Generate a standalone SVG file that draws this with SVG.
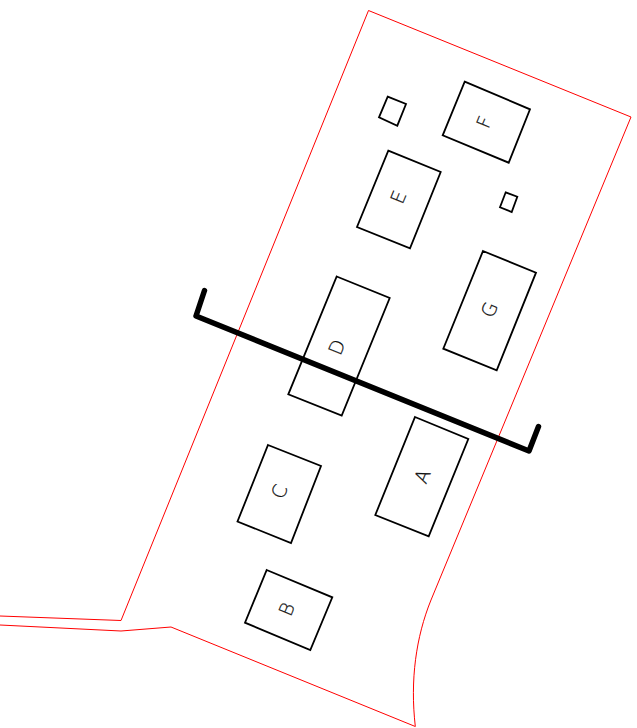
<svg xmlns="http://www.w3.org/2000/svg" width="637" height="728" viewBox="0 0 637 728">
<style>
.b{fill:none;stroke:#000;stroke-width:1.8;stroke-linejoin:miter}
.r{fill:none;stroke:#f00;stroke-width:1}
.s{fill:none;stroke:#000;stroke-width:5.500;stroke-linejoin:round;stroke-linecap:round}
.t{font-family:"DejaVu Sans","Liberation Sans",Arial,sans-serif;font-weight:200;font-size:19px;fill:#000;stroke:#000;stroke-width:.25;opacity:.95;text-anchor:middle;dominant-baseline:central}
</style>
<rect width="637" height="728" fill="#fff"/>
<g id="boundary">
<path class="r" d="M0 616L121 620.500L368.500 10.500L631 117L431 600C416 637 410 680 415.300 726.500L171 627L121 631L0 625"/>
</g>
<g id="A"><path class="b" d="M415 417L468.300 439L428.700 536.300L375.300 515Z"/><text class="t" transform="translate(422 476) rotate(-67.500)">A</text></g>
<g id="B"><path class="b" d="M266.700 570L332.300 597.300L310.300 650L245 622.700Z"/><text class="t" transform="translate(286.500 609) rotate(-67.500)">B</text></g>
<g id="C"><path class="b" d="M268 445L321 466L291 543L237.500 521.500Z"/><text class="t" transform="translate(279 491.500) rotate(-67.500)">C</text></g>
<g id="D"><path class="b" d="M336.700 276.500L389.700 298L341.700 415.700L288.300 394.300Z"/><text class="t" transform="translate(336.500 347) rotate(-67.500)">D</text></g>
<g id="E"><path class="b" d="M388.300 150.700L440.700 172L410 248.300L357 227Z"/><text class="t" transform="translate(398 197) rotate(-67.500)">E</text></g>
<g id="F"><path class="b" d="M464.700 81.700L530 109.300L508.700 162.700L442.700 135.300Z"/><text class="t" transform="translate(484 122) rotate(-67.500)">F</text></g>
<g id="G"><path class="b" d="M483 251L536 272.700L496.700 370.300L443.300 348.700Z"/><text class="t" transform="translate(489 309.500) rotate(-67.500)">G</text></g>
<g id="small-1"><path class="b" d="M387.700 96.700L406 104L397.300 125.700L379 117.300Z"/></g>
<g id="small-2"><path class="b" d="M505.700 192.300L517.300 196.700L511.700 212L500 207.300Z"/></g>
<g id="section"><path class="s" d="M204.500 290.500L196 316L529 451L538.500 426.500"/></g>
</svg>
